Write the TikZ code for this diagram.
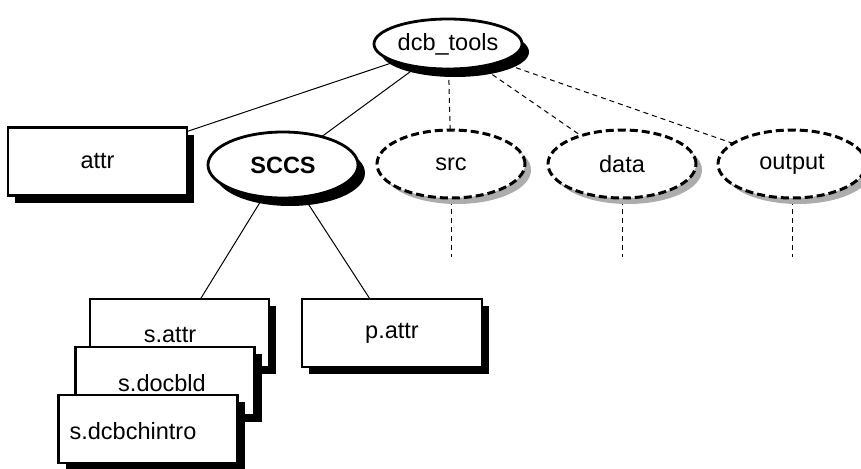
\documentclass[tikz,border=0pt]{standalone}
\usepackage{fontspec}
\setmainfont{Liberation Sans}
\usetikzlibrary{shapes.geometric,shadows,backgrounds}
\begin{document}
\begin{tikzpicture}[x=1pt,y=-1pt]
% styles for the tree
\tikzset{treefont/.style={font=\fontsize{23.5}{27}\selectfont}}
\tikzset{dirnode/.style={ellipse, draw, line width=2.8pt, fill=white, inner sep=0pt,
    minimum width=148pt, minimum height=50pt, treefont,
    drop shadow={shadow xshift=7pt, shadow yshift=-8pt, opacity=1, fill=black}}}
\tikzset{virtdir/.style={ellipse, draw, line width=3pt, dash pattern=on 8pt off 4pt,
    fill=white, inner sep=0pt, minimum width=148pt, minimum height=68pt, treefont,
    drop shadow={shadow xshift=6pt, shadow yshift=-6pt, opacity=1, fill=gray!65}}}
\tikzset{filebox/.style={rectangle, draw, line width=2.2pt, fill=white,
    minimum width=179pt, minimum height=68pt, treefont,
    drop shadow={shadow xshift=7pt, shadow yshift=-7pt, opacity=1, fill=black}}}
\tikzset{link/.style={line width=1pt}}
\tikzset{vlink/.style={line width=1pt, dash pattern=on 5pt off 4pt}}
\useasboundingbox (0,0) rectangle (861,468);
% the root and the first level
\node[dirnode] (dcb) at (448,44) {dcb\_tools};
\node[filebox] (attr) at (97.5,161.5) {attr};
\node[dirnode, minimum width=150pt, minimum height=66pt, font=\fontsize{23.5}{27}\selectfont\bfseries] (sccs) at (283,165) {SCCS};
\foreach \n/\x in {src/451,data/622,output/792} {
  \node[virtdir] (\n) at (\x,164) {\n};
  \coordinate (\n-end) at (\x,257);
}
% files under SCCS
\node[filebox] (sattr) at (179.5,333) {};
\node[treefont] (sattr-lbl) at (170,335) {s.attr};
\node[filebox] (sdocbld) at (165,381) {};
\node[treefont] (sdocbld-lbl) at (162,383) {s.docbld};
\node[filebox] (sdcbchintro) at (148,429) {};
\node[treefont] (sdcbchintro-lbl) at (133,431) {s.dcbchintro};
\node[filebox, minimum width=180pt] (pattr) at (392,333) {p.attr};
% the connectors
\begin{scope}[on background layer]
\draw[link] (dcb.center) -- (attr.center);
\draw[link] (dcb.center) -- (sccs.center);
\draw[link] (sccs.center) -- (sattr.center);
\draw[link] (sccs.center) -- (pattr.center);
\foreach \n in {src,data,output} {
  \draw[vlink] (dcb.center) -- (\n.center);
  \draw[vlink] (\n.center) -- (\n-end);
}
\end{scope}
\end{tikzpicture}
\end{document}
